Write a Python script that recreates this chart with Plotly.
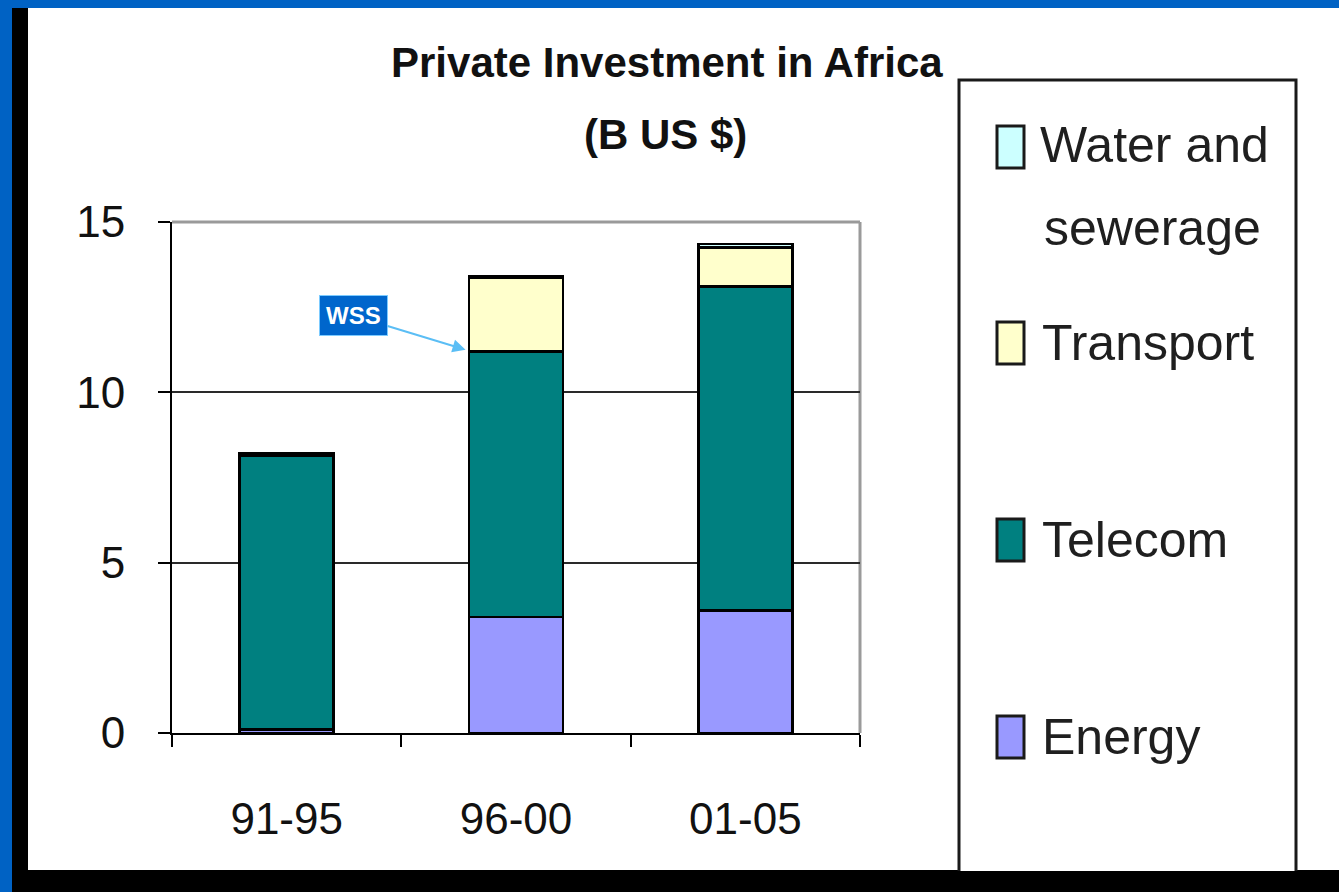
import plotly.graph_objects as go

# ---- data ----
periods = ["91-95", "96-00", "01-05"]
energy = [0.1, 3.4, 3.6]
telecom = [8.05, 7.8, 9.5]
transport = [0.0, 2.15, 1.15]
water = [0.05, 0.07, 0.1]
series_names = ["Energy", "Telecom", "Transport", "Water and sewerage"]
y_ticks = [0, 5, 10, 15]

colors = {"Energy": "#9999FF", "Telecom": "#008080", "Transport": "#FFFFCC",
          "Water and sewerage": "#CCFFFF"}

W, H = 1339, 892
L, R, T, B = 172, 860, 222, 733
PW, PH = R - L, B - T

def fx(px):
    return (px - L) / PW

def fy(py):
    return (B - py) / PH

FONT = "Liberation Sans, Arial, sans-serif"

fig = go.Figure()
for name, vals in zip(series_names, [energy, telecom, transport, water]):
    fig.add_trace(go.Bar(
        x=periods, y=vals, name=name,
        marker=dict(color=colors[name], line=dict(color="#000000", width=2.5)),
        showlegend=False,
    ))

shapes = []
# slide background
shapes.append(dict(type="rect", xref="paper", yref="paper", layer="below",
                   x0=fx(12), x1=fx(W), y0=fy(8), y1=fy(H),
                   fillcolor="#000000", line=dict(width=0)))
shapes.append(dict(type="rect", xref="paper", yref="paper", layer="below",
                   x0=fx(28), x1=fx(W), y0=fy(8), y1=fy(870),
                   fillcolor="#FFFFFF", line=dict(width=0)))
# legend box
shapes.append(dict(type="rect", xref="paper", yref="paper", layer="below",
                   x0=fx(959), x1=fx(1296), y0=fy(80), y1=fy(885),
                   fillcolor="#FFFFFF", line=dict(color="#1a1a1a", width=3)))
# black bottom strip over legend box
shapes.append(dict(type="rect", xref="paper", yref="paper", layer="above",
                   x0=fx(12), x1=fx(W), y0=fy(871), y1=fy(H),
                   fillcolor="#000000", line=dict(width=0)))
# plot frame (top / right)
shapes.append(dict(type="line", xref="paper", yref="paper", layer="below",
                   x0=0, x1=1, y0=1, y1=1, line=dict(color="#9a9a9a", width=3)))
shapes.append(dict(type="line", xref="paper", yref="paper", layer="below",
                   x0=1, x1=1, y0=0, y1=1, line=dict(color="#9a9a9a", width=3)))

annotations = []
# legend entries (top to bottom): name, square centre y, text lines [(text, x, y)]
legend_rows = [
    ("Water and sewerage", 147, [("Water and", 1038, 145), ("sewerage", 1042, 228)]),
    ("Transport", 343, [("Transport", 1040, 343)]),
    ("Telecom", 540, [("Telecom", 1040, 540)]),
    ("Energy", 737, [("Energy", 1040, 737)]),
]
for name, sq_y, lines in legend_rows:
    shapes.append(dict(type="rect", xref="paper", yref="paper", layer="above",
                       x0=fx(997), x1=fx(1024), y0=fy(sq_y - 21), y1=fy(sq_y + 21),
                       fillcolor=colors[name], line=dict(color="#1a1a1a", width=3)))
    for txt, tx, ty in lines:
        annotations.append(dict(text=txt, xref="paper", yref="paper",
                                x=fx(tx), y=fy(ty), xanchor="left", yanchor="middle",
                                align="left", showarrow=False,
                                font=dict(family=FONT, size=50, color="#1f1f1f")))

# title
annotations.append(dict(text="<b>Private Investment in Africa</b>", xref="paper", yref="paper",
                        x=fx(667), y=fy(62), xanchor="center", yanchor="middle",
                        showarrow=False, font=dict(family=FONT, size=42, color="#111111")))
annotations.append(dict(text="<b>(B US $)</b>", xref="paper", yref="paper",
                        x=fx(665), y=fy(135), xanchor="center", yanchor="middle",
                        showarrow=False, font=dict(family=FONT, size=42, color="#111111")))
# WSS callout
annotations.append(dict(text="<b>WSS</b>", x=0.78, y=11.25, xref="x", yref="y",
                        ax=-112, ay=-34, showarrow=True, arrowhead=2, arrowsize=1.3,
                        arrowwidth=2, arrowcolor="#5BBEF5",
                        bgcolor="#0066CC", bordercolor="#7CCBFF", borderwidth=1, borderpad=6,
                        font=dict(family=FONT, size=24, color="#FFFFFF")))

fig.update_layout(
    width=W, height=H,
    margin=dict(l=L, r=W - R, t=T, b=H - B, pad=0),
    paper_bgcolor="#0062C4",
    plot_bgcolor="rgba(0,0,0,0)",
    barmode="stack",
    bargap=0.59,
    shapes=shapes,
    annotations=annotations,
    showlegend=False,
    xaxis=dict(type="category", tickson="boundaries", ticks="outside", ticklen=12,
               tickwidth=2, tickcolor="#000000", showline=True, linecolor="#000000",
               linewidth=2, showgrid=False, ticklabelstandoff=46,
               tickfont=dict(family=FONT, size=44, color="#111111")),
    yaxis=dict(range=[0, 15], tickvals=y_ticks, ticks="outside", ticklen=12,
               tickwidth=2, tickcolor="#000000", showline=True, linecolor="#000000",
               linewidth=2, showgrid=True, gridcolor="#2a2a2a", gridwidth=2,
               zeroline=False, ticklabelstandoff=24,
               tickfont=dict(family=FONT, size=44, color="#111111")),
)

fig.write_html("out.html", config={"displayModeBar": False},
               post_script="document.body.style.margin='0';document.body.style.overflow='hidden';")
